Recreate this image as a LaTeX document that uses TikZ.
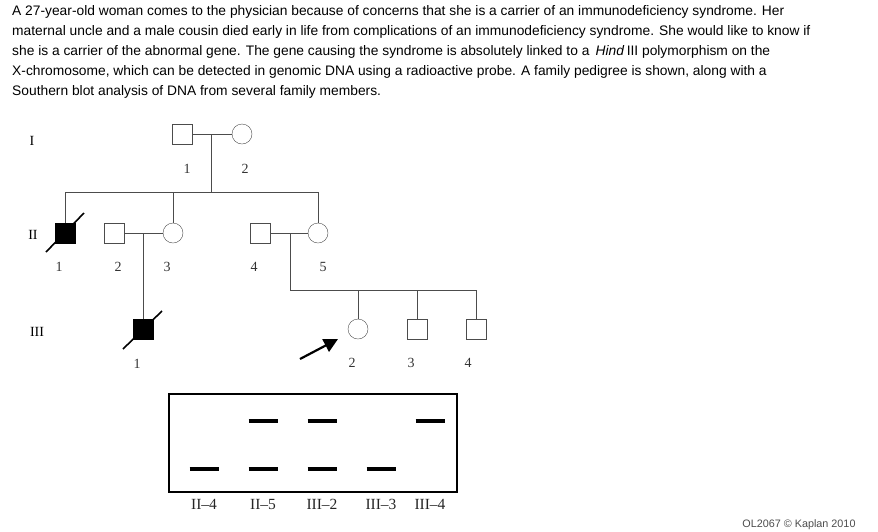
\documentclass[tikz,border=0pt]{standalone}
\usepackage{fontspec}
\setmainfont{Liberation Serif}
\setsansfont{Liberation Sans}
\usetikzlibrary{arrows.meta}

\begin{document}
\begin{tikzpicture}[x=1pt,y=-1pt,
   male/.style={draw=black!70,rectangle,minimum size=20pt,inner sep=0pt},
   female/.style={draw=black!70,circle,minimum size=20pt,inner sep=0pt},
   affected/.style={fill=black,draw=black},
   kin/.style={draw=black!70,line width=0.8pt},
   dead/.style={line width=1.6pt},
   idlabel/.style={font=\fontsize{14}{14}\selectfont,text=black!80},
   genlabel/.style={font=\fontsize{14}{14}\selectfont},
   lanelabel/.style={font=\fontsize{15.5}{15.5}\selectfont,text=black!85},
   question/.style={anchor=west,inner sep=0pt,font=\sffamily\fontsize{13.8}{13.8}\selectfont},
   band/.style={line width=3.5pt}]
\useasboundingbox (0,0) rectangle (878,531);

% question text
\node[question] (q1) at (12,12) {A 27-year-old woman comes to the physician because of concerns that she is a carrier of an immunodeficiency syndrome. Her};
\node[question] (q2) at (12,32) {maternal uncle and a male cousin died early in life from complications of an immunodeficiency syndrome. She would like to know if};
\node[question] (q3) at (12,52) {she is a carrier of the abnormal gene. The gene causing the syndrome is absolutely linked to a \,\textit{Hind}\,III polymorphism on the};
\node[question] (q4) at (12,72) {X-chromosome, which can be detected in genomic DNA using a radioactive probe. A family pedigree is shown, along with a};
\node[question] (q5) at (12,92) {Southern blot analysis of DNA from several family members.};

% generations
\node[genlabel] (gI) at (32,141) {I};
\node[genlabel] (gII) at (33,235) {II};
\node[genlabel] (gIII) at (37,332) {III};

% generation I
\node[male] (I1) at (182,134) {};
\node[female] (I2) at (242,134) {};
\node[idlabel] (I1-id) at (187,169) {1};
\node[idlabel] (I2-id) at (245,169) {2};
\draw[kin] (I1) -- (I2);
\coordinate (mI) at (211,134);
\coordinate (sibII) at (211,192);
\draw[kin] (mI) -- (sibII);

% generation II
\node[male,affected] (II1) at (65,233) {};
\node[male] (II2) at (114,233) {};
\node[female] (II3) at (173,233) {};
\node[male] (II4) at (260,233) {};
\node[female] (II5) at (318,233) {};
\foreach \n/\x in {1/59,2/118,3/167,4/254,5/323}
   \node[idlabel] (II\n-id) at (\x,267) {\n};
\draw[kin] (II1.north |- sibII) -- (II5.north |- sibII);
\draw[kin] (II1.north |- sibII) -- (II1.north);
\draw[kin] (II3.north |- sibII) -- (II3.north);
\draw[kin] (II5.north |- sibII) -- (II5.north);
\draw[dead] ([shift={(-19,19)}]II1.center) -- ([shift={(19,-20)}]II1.center);
\draw[kin] (II2) -- (II3);
\draw[kin] (II4) -- (II5);
\coordinate (mII23) at (143,233);
\coordinate (mII45) at (290,233);
\coordinate (sibIII) at (290,290);

% generation III
\node[male,affected] (III1) at (143,329) {};
\node[female] (III2) at (358,329) {};
\node[male] (III3) at (417,329) {};
\node[male] (III4) at (476,329) {};
\node[idlabel] (III1-id) at (137,364) {1};
\foreach \n/\x in {2/352,3/411,4/468}
   \node[idlabel] (III\n-id) at (\x,363) {\n};
\draw[kin] (mII23) -- (III1.north);
\draw[dead] ([shift={(-20,20)}]III1.center) -- ([shift={(19,-18)}]III1.center);
\draw[kin] (mII45) -- (sibIII) -- (III4.north |- sibIII);
\draw[kin] (III2.north |- sibIII) -- (III2.north);
\draw[kin] (III3.north |- sibIII) -- (III3.north);
\draw[kin] (III4.north |- sibIII) -- (III4.north);

% proband
\coordinate (probtail) at (300,359);
\coordinate (probtip) at (338,339);
\draw[line width=2.2pt,-{Triangle[length=14pt,width=14pt]}] (probtail) -- (probtip);

% southern blot
\node[draw,line width=1.6pt,minimum width=288pt,minimum height=98pt,inner sep=0pt] (blot) at (313,443) {};
\foreach \x/\lab in {204/II--4,263/II--5,322/III--2,381/III--3,430/III--4}
   \node[lanelabel] (lane-\x) at (\x,504) {\lab};
\foreach \x in {263,322,430}
   \draw[band] (\x-14.5,421) -- (\x+14.5,421);
\foreach \x in {204,263,322,381}
   \draw[band] (\x-14.5,469) -- (\x+14.5,469);

\node[font=\sffamily\fontsize{10.8}{10.8}\selectfont,text=black!70] (credit) at (799,525) {OL2067 \textcopyright{} Kaplan 2010};
\end{tikzpicture}
\end{document}
